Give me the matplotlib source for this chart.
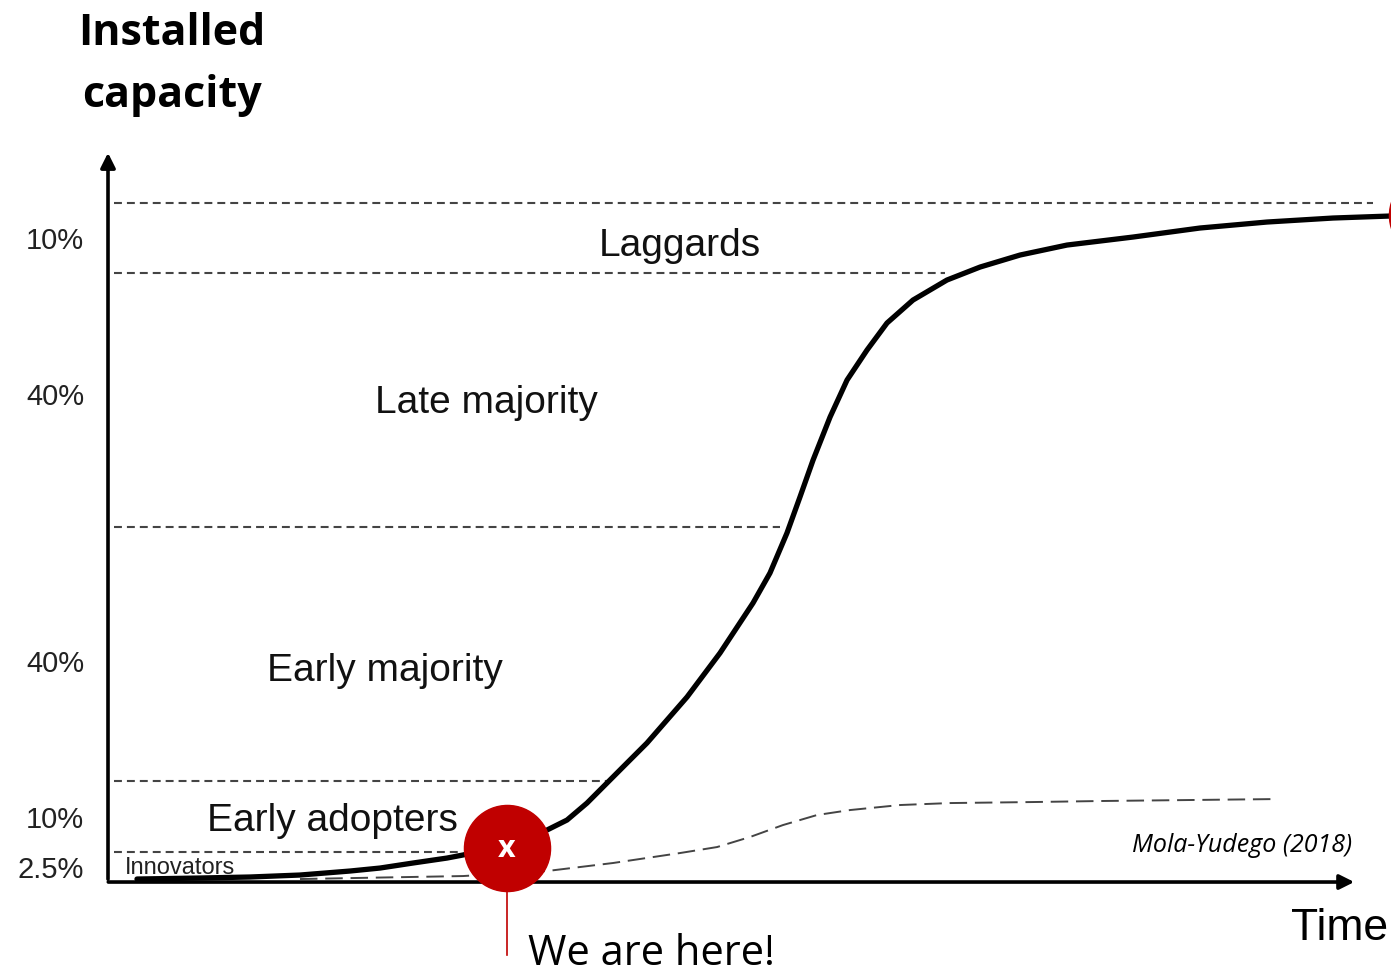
import matplotlib
matplotlib.use("Agg")
import matplotlib.pyplot as plt

# cumulative adoption curve (time units, capacity index 0-100 at top boundary)
curve_t = [2.32, 7.37, 11.37, 15.37, 19.38, 21.78, 24.42, 27.14, 28.42, 31.95,
           35.15, 36.75, 38.35, 39.95, 41.55, 43.15, 46.36, 49.00, 51.64, 53.00,
           54.36, 55.40, 56.45, 57.81, 59.17, 60.77, 62.37, 64.45, 67.17, 69.82,
           73.02, 76.78, 82.07, 87.43, 92.79, 98.08, 102.72]
curve_y = [0.44, 0.59, 0.74, 1.03, 1.62, 2.06, 2.80, 3.53, 3.98, 5.60,
           7.66, 9.13, 11.63, 14.58, 17.53, 20.47, 27.25, 33.73, 41.09, 45.51,
           51.40, 56.70, 62.15, 68.48, 73.93, 78.35, 82.33, 85.71, 88.66, 90.57,
           92.34, 93.81, 94.99, 96.32, 97.20, 97.79, 98.09]

# thin dashed curve
second_t = [15.37, 21.78, 28.42, 35.15, 40.43, 45.80, 48.76, 51.40, 54.04, 56.77,
            59.41, 63.41, 67.41, 74.06, 79.42, 93.59]
second_y = [0.44, 0.66, 0.88, 1.62, 2.80, 4.27, 5.15, 6.63, 8.39, 9.87,
            10.60, 11.34, 11.63, 11.78, 11.93, 12.22]

# adopter categories
bounds = [0, 4.42, 14.87, 52.28, 89.69, 100]
bound_end_t = [28.2, 39.95, 53.8, 67.0, 101.3]
shares = ["2.5%", "10%", "40%", "40%", "10%"]
share_y = [1.77, 9.13, 32.1, 71.4, 94.4]
groups = ["Innovators", "Early adopters", "Early majority", "Late majority", "Laggards"]

here_t, here_y = 31.95, 5.0
end_t, end_y = 106.0, 98.2

RED = "#C00000"
SANS = "Liberation Sans"
CAL = "Open Sans"

fig = plt.figure(figsize=(13.91, 9.76), dpi=100)
ax = fig.add_axes([0, 0, 1, 1])
ax.set_xlim(-8.647, 102.72)
ax.set_ylim(-13.84, 129.9)
ax.axis("off")

# horizontal category boundaries
for b, te in zip(bounds[1:], bound_end_t):
    ax.plot([0.5, te], [b, b], color="#444444", lw=1.5, dashes=(3.8, 2.4))

# axes with arrows
ax.annotate("", xy=(0, 107.8), xytext=(0, 0),
            arrowprops=dict(arrowstyle="-|>", lw=2.6, color="black", mutation_scale=22))
ax.annotate("", xy=(100, 0), xytext=(-0.2, 0),
            arrowprops=dict(arrowstyle="-|>", lw=2.6, color="black", mutation_scale=22))

# curves
ax.plot(second_t, second_y, color="#444444", lw=1.4, dashes=(9, 4))
ax.plot(curve_t, curve_y, color="black", lw=3.8, solid_capstyle="round",
        solid_joinstyle="round", clip_on=False)

# share labels
for s, yy in zip(shares, share_y):
    ax.text(-1.9, yy, s, ha="right", va="center", fontsize=21, family=SANS, color="#222222")

ax.text(1.36, 2.0, groups[0], ha="left", va="center", fontsize=17, family=SANS, color="#222222")
ax.text(17.93, 9.0, groups[1], ha="center", va="center", fontsize=28, family=SANS, color="#111111")
ax.text(22.18, 31.1, groups[2], ha="center", va="center", fontsize=28, family=SANS, color="#111111")
ax.text(30.26, 70.6, groups[3], ha="center", va="center", fontsize=28, family=SANS, color="#111111")
ax.text(45.8, 93.6, groups[4], ha="center", va="center", fontsize=28, family=SANS, color="#111111")

# titles
ax.text(5.12, 120.4, "Installed\ncapacity", ha="center", va="center", fontsize=31,
        family=CAL, fontweight="bold", linespacing=1.55)
ax.text(98.6, -6.9, "Time", ha="center", va="center", fontsize=32, family=SANS)
ax.text(99.6, 5.45, "Mola-Yudego (2018)", ha="right", va="center", fontsize=18,
        family=CAL, style="italic")

# we are here marker
ax.plot([here_t, here_t], [here_y, -10.8], color=RED, lw=1.2)
ax.scatter([here_t], [here_y], s=62 ** 2, color=RED, zorder=5)
ax.text(here_t, here_y - 0.2, "x", ha="center", va="center", fontsize=22, color="white",
        fontweight="bold", family=CAL, zorder=6)
ax.scatter([end_t], [end_y], s=62 ** 2, color=RED, zorder=5, clip_on=False)
ax.text(33.6, -12.2, "We are here!", ha="left", va="baseline", fontsize=30, family=CAL)

fig.savefig("out.png", dpi=100)
